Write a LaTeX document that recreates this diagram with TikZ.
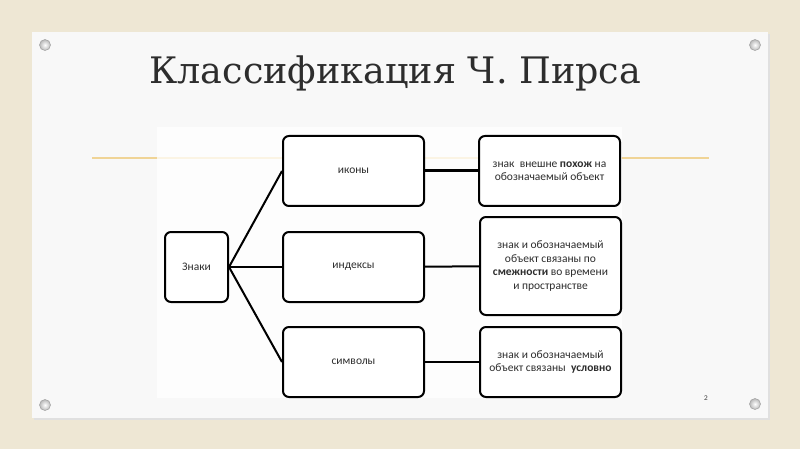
\documentclass[tikz,border=0pt]{standalone}
\usepackage{fontspec}
\setmainfont{DejaVu Serif}
\newfontfamily\boxfont{Carlito}
\usetikzlibrary{positioning}

\definecolor{canvas}{RGB}{238,231,212}
\definecolor{slide}{RGB}{248,248,248}
\definecolor{rulecol}{RGB}{240,212,150}
\definecolor{ink}{RGB}{45,45,45}

\begin{document}
\begin{tikzpicture}[x=1pt,y=-1pt,
    box/.style={draw=black,line width=2pt,rounded corners=6pt,fill=white,
      inner sep=2pt,font=\boxfont\fontsize{11.5}{13.4}\selectfont,text=ink,align=center},
    link/.style={line width=2pt},
    pin/.style={circle,inner sep=0pt,minimum size=11pt,draw=gray!70,line width=0.6pt,
      inner color=white,outer color=gray!55}]
      % background and slide
      \useasboundingbox (0,0) rectangle (800,449);
      \fill[canvas] (0,0) rectangle (800,449);
      \fill[black!12] (34,34) rectangle (770,420);
      \fill[slide] (32,32) rectangle (768,418);
      \node[pin] (p1) at (45,45) {};
      \node[pin] (p2) at (755,45) {};
      \node[pin] (p3) at (45,405) {};
      \node[pin] (p4) at (755,404) {};

      \node[anchor=base west,font=\fontsize{36.5}{40}\selectfont,text=ink] (title) at (146,84)
        {Классификация Ч. Пирса};
      \draw[rulecol,line width=1.2pt] (92,158) -- (709,158);
      \fill[white,opacity=0.75] (157,127) rectangle (622,398);

      \node[box,minimum width=63pt,minimum height=70pt] (zn) at (196.5,267) {Знаки};
      \node[box,minimum width=141pt,minimum height=70pt] (ik) at (353.5,171) {иконы};
      \node[box,minimum width=141pt,minimum height=70pt] (in) at (353.5,267) {индексы};
      \node[box,minimum width=141pt,minimum height=70pt] (sy) at (353.5,362) {символы};
      \node[box,minimum width=141pt,minimum height=70pt] (d1) at (549.5,171)
        {знак \ внешне \textbf{похож} на\\обозначаемый объект};
      \node[box,minimum width=141pt,minimum height=98pt] (d2) at (550.5,266)
        {знак и обозначаемый\\объект связаны по\\\textbf{смежности} во времени\\и пространстве};
      \node[box,minimum width=141pt,minimum height=70pt] (d3) at (550.5,362)
        {знак и обозначаемый\\объект связаны \ \textbf{условно}};

      \draw[link] (zn.east) -- (ik.west);
      \draw[link] (zn.east) -- (in.west);
      \draw[link] (zn.east) -- (sy.west);
      \draw[link,line width=3pt] (ik) -- (d1);
      \draw[link] (in) -- (d2);
      \draw[link] (sy) -- (d3);

      \node[font=\sffamily\fontsize{7}{8}\selectfont,text=ink] (num) at (706,398) {2};
    \end{tikzpicture}
\end{document}
